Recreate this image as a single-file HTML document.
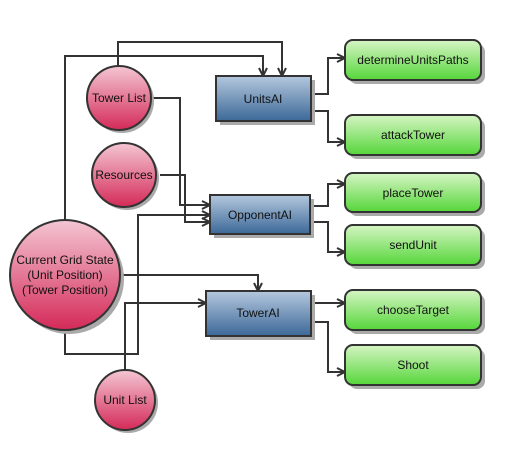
<!DOCTYPE html>
<html><head><style>body{margin:0;background:#fff}svg{display:block}</style></head><body>
<svg width="529" height="451" viewBox="0 0 529 451" xmlns="http://www.w3.org/2000/svg" font-family="Liberation Sans, sans-serif" font-size="12">
<defs>
<linearGradient id="r" x1="0" y1="0" x2="0" y2="1"><stop offset="0" stop-color="#f4c6d3"/><stop offset="1" stop-color="#d42a58"/></linearGradient>
<linearGradient id="b" x1="0" y1="0" x2="0" y2="1"><stop offset="0" stop-color="#b4c8de"/><stop offset="1" stop-color="#3c6898"/></linearGradient>
<linearGradient id="g" x1="0" y1="0" x2="0" y2="1"><stop offset="0" stop-color="#d6f5c4"/><stop offset="1" stop-color="#55d63a"/></linearGradient>
<marker id="a" markerWidth="10" markerHeight="10" refX="9" refY="5" orient="auto" markerUnits="userSpaceOnUse"><path d="M1,1 L9,5 L1,9" fill="none" stroke="#333" stroke-width="2"/></marker>
</defs>
<g fill="none" stroke="#333" stroke-width="2" marker-end="url(#a)">
<path d="M118,65 V42 H282 V76"/>
<path d="M65,220 V56 H263 V76"/>
<path d="M151,98 H180 V205 H210"/>
<path d="M160,175 H185 V222 H210"/>
<path d="M65,330 V354 H138 V215 H210"/>
<path d="M120,275 H258 V291"/>
<path d="M125,370 V303 H206"/>
<path d="M311,94 H328 V58 H345"/>
<path d="M311,111 H328 V142 H345"/>
<path d="M310,206 H328 V184 H345"/>
<path d="M310,222 H328 V252 H345"/>
<path d="M311,303 H345"/>
<path d="M311,322 H328 V372 H345"/>
</g>
<g fill="#aaa">
<circle cx="122" cy="101" r="32"/><circle cx="127" cy="178" r="32"/><circle cx="69" cy="279" r="55"/><circle cx="128" cy="403" r="30"/>
<rect x="220" y="80" width="95" height="45"/><rect x="214" y="199" width="100" height="39"/><rect x="210" y="295" width="105" height="45"/>
<rect x="349" y="44" width="136" height="40" rx="8"/><rect x="349" y="119" width="136" height="40" rx="8"/><rect x="349" y="177" width="136" height="39" rx="8"/><rect x="349" y="229" width="136" height="40" rx="8"/><rect x="349" y="294" width="136" height="40" rx="8"/><rect x="349" y="349" width="136" height="40" rx="8"/>
</g>
<g stroke="#333" stroke-width="2">
<circle cx="119" cy="98" r="32" fill="url(#r)"/><circle cx="124" cy="175" r="32" fill="url(#r)"/><circle cx="65" cy="275" r="55" fill="url(#r)"/><circle cx="125" cy="400" r="30" fill="url(#r)"/>
<rect x="216" y="76" width="95" height="45" fill="url(#b)"/><rect x="210" y="195" width="100" height="39" fill="url(#b)"/><rect x="206" y="291" width="105" height="45" fill="url(#b)"/>
<g fill="url(#g)"><rect x="345" y="40" width="136" height="40" rx="8"/><rect x="345" y="115" width="136" height="40" rx="8"/><rect x="345" y="173" width="136" height="39" rx="8"/><rect x="345" y="225" width="136" height="40" rx="8"/><rect x="345" y="290" width="136" height="40" rx="8"/><rect x="345" y="345" width="136" height="40" rx="8"/></g>
</g>
<g fill="#111" text-anchor="middle">
<text x="119" y="102">Tower List</text><text x="124" y="179">Resources</text>
<text x="65" y="264">Current Grid State</text><text x="65" y="279">(Unit Position)</text><text x="65" y="294">(Tower Position)</text>
<text x="125" y="404">Unit List</text>
<text x="263" y="103">UnitsAI</text><text x="260" y="219">OpponentAI</text><text x="258" y="317">TowerAI</text>
<text x="413" y="64">determineUnitsPaths</text><text x="413" y="139">attackTower</text><text x="413" y="197">placeTower</text><text x="413" y="249">sendUnit</text><text x="413" y="314">chooseTarget</text><text x="413" y="369">Shoot</text>
</g>
</svg>
</body></html>
